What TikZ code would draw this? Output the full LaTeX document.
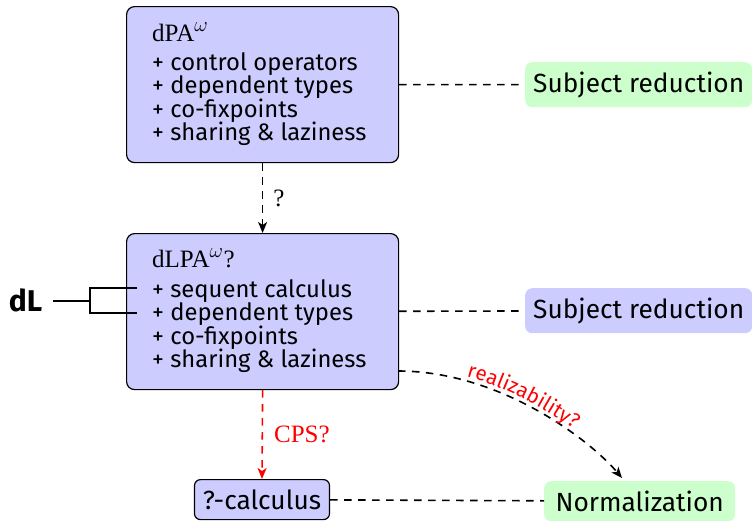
\documentclass[tikz,border=0pt]{standalone}
\usepackage{fontspec}
\setmainfont{Liberation Serif}
\setsansfont{Fira Sans}
\DeclareMathSizes{25}{25}{20}{16}
\usetikzlibrary{arrows.meta,decorations.text}
\begin{document}
\begin{tikzpicture}[x=1pt,y=-1pt,
  sfont/.style={font=\fontsize{23.8}{27}\selectfont\sffamily},
  resfont/.style={font=\fontsize{26.3}{30}\selectfont\sffamily},
  rmfont/.style={font=\fontsize{25}{29}\selectfont\rmfamily},
  bigbox/.style={draw=black,fill=blue!20,line width=1.2pt,rounded corners=8pt,inner sep=0pt},
  resbox/.style={rounded corners=7pt,inner sep=0pt,resfont},
  conn/.style={dash pattern=on 7.5pt off 6.5pt,line width=1.6pt},
  tipend/.style={-{Stealth[length=11pt,width=9pt,inset=3pt]}},
  solidline/.style={line width=1.2pt}
]
\useasboundingbox (0,0) rectangle (752,520);

% box 1
\node[bigbox,anchor=north west,minimum width=272pt,minimum height=156pt] (b1) at (126,6) {};
\node[rmfont,anchor=base west,inner sep=0pt] (b1h) at (152,41) {dPA$^\omega$};
\node[sfont,anchor=base west,inner sep=0pt] (b1a) at (152,70) {+ control operators};
\node[sfont,anchor=base west,inner sep=0pt] (b1b) at (152,93.5) {+ dependent types};
\node[sfont,anchor=base west,inner sep=0pt] (b1c) at (152,117) {+ co-fixpoints};
\node[sfont,anchor=base west,inner sep=0pt] (b1d) at (152,140.5) {+ sharing \& laziness};

% box 2
\node[bigbox,anchor=north west,minimum width=272pt,minimum height=156pt] (b2) at (126,233) {};
\node[rmfont,anchor=base west,inner sep=0pt] (b2h) at (152,267) {dLPA$^\omega$?};
\node[sfont,anchor=base west,inner sep=0pt] (b2a) at (152,297) {+ sequent calculus};
\node[sfont,anchor=base west,inner sep=0pt] (b2b) at (152,320.5) {+ dependent types};
\node[sfont,anchor=base west,inner sep=0pt] (b2c) at (152,344) {+ co-fixpoints};
\node[sfont,anchor=base west,inner sep=0pt] (b2d) at (152,367.5) {+ sharing \& laziness};

% result boxes
\node[resbox,fill=green!20,anchor=north west,minimum width=227pt,minimum height=45pt] (g1) at (525,62) {Subject reduction};
\node[resbox,fill=blue!20,anchor=north west,minimum width=227pt,minimum height=45pt] (g2) at (525,288) {Subject reduction};
\node[resbox,fill=green!20,anchor=north west,minimum width=191pt,minimum height=40pt] (nm) at (544,481) {Normalization};
\node[bigbox,resfont,rounded corners=6pt,anchor=north,minimum width=135pt,minimum height=40pt] (qc) at (262,479) {?-calculus};

% dL bracket
\node[font=\fontsize{30}{34}\selectfont\sffamily\bfseries,inner sep=0pt] (dl) at (25.5,300.5) {dL};
\coordinate (dlm) at (90,301);
\coordinate (dls) at (53,301);
\coordinate (btl) at (90,288);
\coordinate (bbl) at (90,313);
\coordinate (bt) at (137,288);
\coordinate (bb) at (137,313);
\draw[solidline] (dls) -- (dlm);
\draw[solidline] (bt) -- (btl) -- (bbl) -- (bb);

% connectors
\draw[conn] (b1) -- (g1);
\draw[conn,tipend] (b1) -- (b2) node[midway,anchor=west,xshift=10pt,inner sep=0pt,rmfont] (q1) {?};
\draw[conn] (b2) -- (g2);
\draw[conn,red,tipend] (b2.south) -- (qc.north) node[midway,anchor=west,xshift=11pt,inner sep=0pt,rmfont,text=red] (cps) {CPS?};
\draw[conn] (qc) -- (nm);

\coordinate (rs) at (398,371);
\coordinate (re) at (622,478);
\draw[conn,tipend] (rs) .. controls (500,371) and (590,440) .. (re);
\path[decorate,decoration={text along path,text={|\fontsize{20.5}{23}\selectfont\sffamily\color{red}|realizability?},text align=center,raise=4pt}] (rs) .. controls (500,371) and (590,440) .. (re);
\end{tikzpicture}
\end{document}
